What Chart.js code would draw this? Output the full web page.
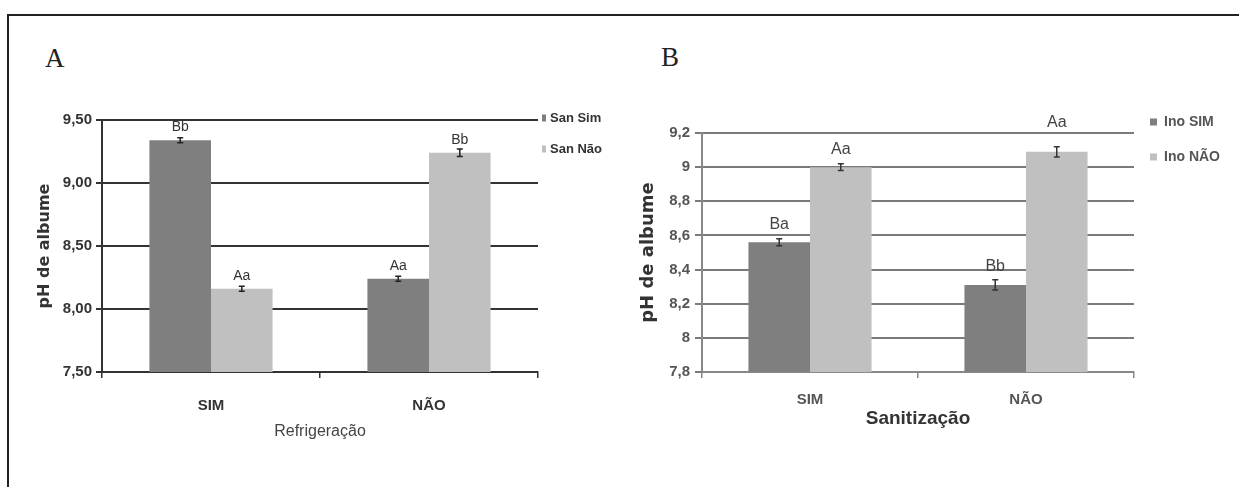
<!DOCTYPE html>
<html>
<head>
<meta charset="utf-8">
<script src="https://cdn.jsdelivr.net/npm/chart.js@4.4.1/dist/chart.umd.min.js"></script>
<style>
  html, body { margin: 0; padding: 0; background: #fff; }
  #page { position: relative; width: 1239px; height: 487px; overflow: hidden; background: #fff; }
  #frame { position: absolute; left: 7px; top: 14px; width: 1300px; height: 600px;
           border-top: 2px solid #222; border-left: 2px solid #222; }
  .panel { position: absolute; font-family: "Liberation Serif", "DejaVu Serif", serif;
           font-size: 27px; line-height: 27px; color: #222; }
  canvas { position: absolute; top: 0; }
</style>
</head>
<body>
<div id="page">
  <div id="frame"></div>
  <div class="panel" style="left:45px; top:45px;">A</div>
  <div class="panel" style="left:661px; top:44px;">B</div>
  <canvas id="chartA" width="620" height="487" style="left:0px;"></canvas>
  <canvas id="chartB" width="619" height="487" style="left:620px;"></canvas>
</div>
<script>
// categories shared by both panels
const categories = ["SIM", "NÃO"];

// panel A - refrigeração
const refrigLabels = ["San Sim", "San Não"];
const refrigSanSim = [9.34, 8.24];
const refrigSanNao = [8.16, 9.24];
const refrigErrSim = [0.02, 0.02];
const refrigErrNao = [0.02, 0.03];
const refrigLetSim = ["Bb", "Aa"];
const refrigLetNao = ["Aa", "Bb"];
const refrigTicks = ["7,50", "8,00", "8,50", "9,00", "9,50"];

// panel B - sanitização
const sanitLabels = ["Ino SIM", "Ino NÃO"];
const sanitInoSim = [8.56, 8.31];
const sanitInoNao = [9.00, 9.09];
const sanitErrSim = [0.02, 0.03];
const sanitErrNao = [0.02, 0.03];
const sanitLetSim = ["Ba", "Bb"];
const sanitLetNao = ["Aa", "Aa"];
const sanitTicks = ["7,8", "8", "8,2", "8,4", "8,6", "8,8", "9", "9,2"];

const DARK = "#7f7f7f";
const LIGHT = "#c0c0c0";
const SANS = '"Liberation Sans", Arial, sans-serif';
const WIDE = '"DejaVu Sans", "Liberation Sans", sans-serif';
const NARROW = '"Liberation Sans Narrow", "Liberation Sans", Arial, sans-serif';

// error bars + significance letters above each bar
const marksPlugin = {
  id: "marks",
  afterDatasetsDraw(chart, args, opts) {
    const ctx = chart.ctx;
    const yScale = chart.scales.y;
    chart.data.datasets.forEach((ds, di) => {
      const meta = chart.getDatasetMeta(di);
      meta.data.forEach((bar, i) => {
        const v = ds.data[i];
        const e = ds.errors[i];
        const yTop = yScale.getPixelForValue(v + e);
        const yBot = yScale.getPixelForValue(v - e);
        ctx.save();
        ctx.strokeStyle = opts.errColor;
        ctx.lineWidth = 1.5;
        ctx.beginPath();
        ctx.moveTo(bar.x, yTop); ctx.lineTo(bar.x, yBot);
        ctx.moveTo(bar.x - 3, yTop); ctx.lineTo(bar.x + 3, yTop);
        ctx.moveTo(bar.x - 3, yBot); ctx.lineTo(bar.x + 3, yBot);
        ctx.stroke();
        ctx.font = opts.font;
        ctx.fillStyle = opts.color;
        ctx.textAlign = "center";
        ctx.textBaseline = "middle";
        const extra = (opts.extra[di] || {})[i] || 0;
        ctx.fillText(ds.letters[i], bar.x, bar.y - opts.lift - extra);
        ctx.restore();
      });
    });
  }
};

// legend drawn to the right of the plot
const sideLegend = {
  id: "sideLegend",
  afterDraw(chart, args, opts) {
    const ctx = chart.ctx;
    const area = chart.chartArea;
    chart.data.datasets.forEach((ds, di) => {
      const x = area.right + opts.dx;
      const y = area.top + opts.dy + di * opts.gap;
      ctx.save();
      ctx.fillStyle = ds.backgroundColor;
      ctx.fillRect(x, y - opts.boxH / 2, opts.boxW, opts.boxH);
      ctx.font = opts.font;
      ctx.fillStyle = opts.color;
      ctx.textAlign = "left";
      ctx.textBaseline = "middle";
      ctx.fillText(ds.label, x + opts.boxW + opts.textGap, y);
      ctx.restore();
    });
  }
};

function makeChart(canvasId, cfg) {
  return new Chart(document.getElementById(canvasId), {
    type: "bar",
    data: {
      labels: categories,
      datasets: [
        { label: cfg.labels[0], data: cfg.first, errors: cfg.errFirst, letters: cfg.letFirst,
          backgroundColor: DARK, borderWidth: 0 },
        { label: cfg.labels[1], data: cfg.second, errors: cfg.errSecond, letters: cfg.letSecond,
          backgroundColor: LIGHT, borderWidth: 0 }
      ]
    },
    options: {
      responsive: false,
      animation: false,
      layout: { padding: cfg.padding },
      datasets: { bar: { categoryPercentage: cfg.catPct, barPercentage: 1 } },
      plugins: {
        legend: { display: false },
        tooltip: { enabled: false },
        marks: cfg.marks,
        sideLegend: cfg.legend
      },
      scales: {
        x: {
          grid: { display: true, drawOnChartArea: false, offset: true, tickLength: 6,
                  color: cfg.axisColor, lineWidth: 1.5 },
          border: { color: cfg.axisColor, width: 2 },
          ticks: { padding: cfg.xTickPad, color: cfg.xTickColor, font: cfg.xTickFont },
          title: { display: true, text: cfg.xTitle, color: cfg.xTitleColor, font: cfg.xTitleFont,
                   padding: { top: 0, bottom: cfg.xTitlePad } },
          afterFit: (s) => { s.height = 75; }
        },
        y: {
          min: cfg.min,
          max: cfg.max,
          ticks: { stepSize: cfg.step, padding: cfg.yTickPad, color: cfg.yTickColor, font: cfg.yTickFont,
                   callback: (v, i) => cfg.ticks[i] },
          grid: { color: cfg.gridColor, lineWidth: 2, tickLength: cfg.tickLen },
          border: { color: cfg.axisColor, width: 2 },
          title: { display: true, text: "pH de albume", color: cfg.yTitleColor, font: cfg.yTitleFont,
                   padding: { top: 0, bottom: 0 } },
          afterFit: (s) => { s.width = cfg.yWidth; }
        }
      }
    },
    plugins: [marksPlugin, sideLegend]
  });
}

makeChart("chartA", {
  labels: refrigLabels,
  first: refrigSanSim, second: refrigSanNao,
  errFirst: refrigErrSim, errSecond: refrigErrNao,
  letFirst: refrigLetSim, letSecond: refrigLetNao,
  ticks: refrigTicks, min: 7.5, max: 9.5, step: 0.5,
  padding: { left: 35, top: 120, right: 82, bottom: 40 },
  yWidth: 67, tickLen: 6, yTickPad: 4, catPct: 0.565,
  gridColor: "#333", axisColor: "#333",
  yTickColor: "#333", yTickFont: { family: NARROW, size: 15, weight: "bold" },
  yTitleColor: "#333", yTitleFont: { family: WIDE, size: 16, weight: "bold" },
  xTickPad: 19, xTickColor: "#333", xTickFont: { family: NARROW, size: 15, weight: "bold" },
  xTitle: "Refrigeração", xTitleColor: "#444", xTitleFont: { family: SANS, size: 16 }, xTitlePad: 6,
  marks: { errColor: "#222", font: "14px " + NARROW, color: "#333", lift: 13, extra: {} },
  legend: { dx: 4, dy: -2, gap: 31, boxW: 4, boxH: 7, textGap: 4, font: "bold 13px " + NARROW, color: "#333" }
});

makeChart("chartB", {
  labels: sanitLabels,
  first: sanitInoSim, second: sanitInoNao,
  errFirst: sanitErrSim, errSecond: sanitErrNao,
  letFirst: sanitLetSim, letSecond: sanitLetNao,
  ticks: sanitTicks, min: 7.8, max: 9.2, step: 0.2,
  padding: { left: 18, top: 133, right: 105, bottom: 40 },
  yWidth: 64, tickLen: 7, yTickPad: 5, catPct: 0.57,
  gridColor: "#7a7a7a", axisColor: "#888",
  yTickColor: "#555", yTickFont: { family: SANS, size: 15, weight: "bold" },
  yTitleColor: "#333", yTitleFont: { family: WIDE, size: 18, weight: "bold" },
  xTickPad: 13, xTickColor: "#555", xTickFont: { family: SANS, size: 15, weight: "bold" },
  xTitle: "Sanitização", xTitleColor: "#333", xTitleFont: { family: SANS, size: 19, weight: "bold" }, xTitlePad: 17,
  marks: { errColor: "#333", font: "16px " + SANS, color: "#444", lift: 18, extra: { 1: { 1: 11 } } },
  legend: { dx: 16, dy: -11, gap: 35, boxW: 7, boxH: 7, textGap: 7, font: "bold 14px " + SANS, color: "#555" }
});
</script>
</body>
</html>
